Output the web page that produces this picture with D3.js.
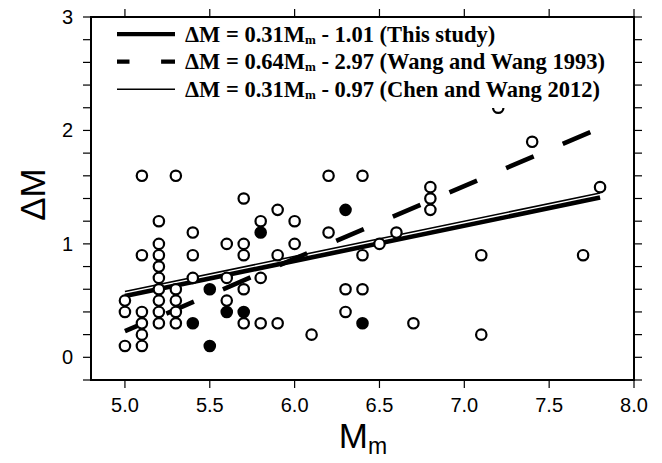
<!DOCTYPE html>
<html>
<head>
<meta charset="utf-8">
<script src="https://cdn.jsdelivr.net/npm/d3@7"></script>
<style>
  html, body { margin: 0; padding: 0; background: #fff; }
  svg { display: block; }
</style>
</head>
<body>
<svg id="chart" width="662" height="463"></svg>
<script>
// Open circles: main-shock magnitude Mm and magnitude difference ΔM
const openMm = [5.1, 5.3, 5.7, 5.9, 5.2, 5.8, 5.4, 5.2, 5.6, 5.7,
                5.1, 5.2, 5.4, 5.7, 5.9, 5.2, 5.2, 5.4, 5.6, 5.8,
                5.2, 5.3, 5.7, 5.0, 5.2, 5.3, 5.6, 5.0, 5.1, 5.2,
                5.3, 5.1, 5.2, 5.3, 5.7, 5.8, 5.9, 5.1, 5.0, 5.1,
                6.2, 6.4, 6.8, 6.8, 6.8, 6.0, 6.2, 6.6, 6.0, 6.5,
                6.4, 6.3, 6.4, 6.3, 6.7, 6.1,
                7.2, 7.4, 7.8, 7.1, 7.7, 7.1];
const openDM = [1.6, 1.6, 1.4, 1.3, 1.2, 1.2, 1.1, 1.0, 1.0, 1.0,
                0.9, 0.9, 0.9, 0.9, 0.9, 0.8, 0.7, 0.7, 0.7, 0.7,
                0.6, 0.6, 0.6, 0.5, 0.5, 0.5, 0.5, 0.4, 0.4, 0.4,
                0.4, 0.3, 0.3, 0.3, 0.3, 0.3, 0.3, 0.2, 0.1, 0.1,
                1.6, 1.6, 1.5, 1.4, 1.3, 1.2, 1.1, 1.1, 1.0, 1.0,
                0.9, 0.6, 0.6, 0.4, 0.3, 0.2,
                2.2, 1.9, 1.5, 0.9, 0.9, 0.2];

// Filled circles
const filledMm = [5.8, 6.3, 5.5, 5.6, 5.7, 5.4, 6.4, 5.5];
const filledDM = [1.1, 1.3, 0.6, 0.4, 0.4, 0.3, 0.3, 0.1];

// Linear relations ΔM = a·Mm + b, drawn over Mm in [5.0, 7.8]
const fitNames  = ["This study", "Wang and Wang 1993", "Chen and Wang 2012"];
const fitSlopes = [0.31, 0.64, 0.31];
const fitIntercepts = [-1.01, -2.97, -0.97];
const fitRange = [5.0, 7.8];

const xTicks = [5.0, 5.5, 6.0, 6.5, 7.0, 7.5, 8.0];
const yTicks = [0, 1, 2, 3];

const svg = d3.select("#chart");
const pLeft = 91, pRight = 634, pTop = 17, pBottom = 380;

const x = d3.scaleLinear().domain([4.8, 8.0]).range([pLeft, pRight]);
const y = d3.scaleLinear().domain([-0.2, 3.0]).range([pBottom, pTop]);

const yMinor = d3.range(-0.2, 3.0001, 0.2).map(v => +v.toFixed(1));

const fitStyles = [
  { width: 4.6, dash: null, offset: 0 },
  { width: 4.6, dash: "30 31.6", offset: 16.6 },
  { width: 1.6, dash: null, offset: 0 }
];

// regression lines
const plot = svg.append("g");
fitSlopes.forEach((a, i) => {
  const b = fitIntercepts[i];
  const st = fitStyles[i];
  const line = plot.append("line")
    .attr("x1", x(fitRange[0])).attr("y1", y(a * fitRange[0] + b))
    .attr("x2", x(fitRange[1])).attr("y2", y(a * fitRange[1] + b))
    .attr("stroke", "#000")
    .attr("stroke-width", st.width)
    .attr("stroke-linecap", "butt");
  if (st.dash) line.attr("stroke-dasharray", st.dash).attr("stroke-dashoffset", st.offset);
});

// data points
const openPts = openMm.map((m, i) => [m, openDM[i]]);
const filledPts = filledMm.map((m, i) => [m, filledDM[i]]);

plot.selectAll("circle.open").data(openPts).join("circle")
  .attr("class", "open")
  .attr("cx", d => x(d[0])).attr("cy", d => y(d[1]))
  .attr("r", 5.2)
  .attr("fill", "#fff").attr("stroke", "#000").attr("stroke-width", 2.2);

plot.selectAll("circle.filled").data(filledPts).join("circle")
  .attr("class", "filled")
  .attr("cx", d => x(d[0])).attr("cy", d => y(d[1]))
  .attr("r", 5.2)
  .attr("fill", "#000").attr("stroke", "#000").attr("stroke-width", 2.2);

// legend panel
const legend = svg.append("g");
legend.append("rect")
  .attr("x", pLeft).attr("y", pTop)
  .attr("width", pRight - pLeft).attr("height", 108 - pTop)
  .attr("fill", "#fff");

const legRows = [34.2, 61.7, 89.2];
const legLabels = [
  ["0.31", "1.01"],
  ["0.64", "2.97"],
  ["0.31", "0.97"]
];
const legendStyles = [
  { width: 4.2, dash: null, offset: 0 },
  { width: 4.2, dash: "30 31.6", offset: 17.5 },
  { width: 1.5, dash: null, offset: 0 }
];
legRows.forEach((ry, i) => {
  const st = legendStyles[i];
  const l = legend.append("line")
    .attr("x1", 117).attr("x2", 175)
    .attr("y1", ry).attr("y2", ry)
    .attr("stroke", "#000").attr("stroke-width", st.width);
  if (st.dash) l.attr("stroke-dasharray", st.dash).attr("stroke-dashoffset", st.offset);

  const t = legend.append("text")
    .attr("x", 185).attr("y", ry + 7.5)
    .attr("font-family", "'Liberation Serif', 'Times New Roman', serif")
    .attr("font-weight", "bold")
    .attr("font-size", 22.5)
    .attr("fill", "#000");
  t.append("tspan").text("ΔM = " + legLabels[i][0] + "M");
  t.append("tspan").attr("font-size", 13).attr("dy", 2).text("m");
  t.append("tspan").attr("dy", -2).text(" - " + legLabels[i][1] + " (" + fitNames[i] + ")");
});

// frame
svg.append("rect")
  .attr("x", pLeft).attr("y", pTop)
  .attr("width", pRight - pLeft).attr("height", pBottom - pTop)
  .attr("fill", "none").attr("stroke", "#000").attr("stroke-width", 2);

// ticks on all four sides
const tickLen = 8;
const tk = svg.append("g").attr("stroke", "#000").attr("stroke-width", 1.2);
xTicks.forEach(v => {
  tk.append("line").attr("x1", x(v)).attr("x2", x(v)).attr("y1", pBottom).attr("y2", pBottom + tickLen);
  tk.append("line").attr("x1", x(v)).attr("x2", x(v)).attr("y1", pTop).attr("y2", pTop - tickLen);
});
yMinor.forEach(v => {
  tk.append("line").attr("x1", pLeft).attr("x2", pLeft - tickLen).attr("y1", y(v)).attr("y2", y(v));
  tk.append("line").attr("x1", pRight).attr("x2", pRight + tickLen).attr("y1", y(v)).attr("y2", y(v));
});

// tick labels
const sans = "'Liberation Sans', Arial, Helvetica, sans-serif";
svg.append("g").selectAll("text").data(xTicks).join("text")
  .attr("x", d => x(d)).attr("y", 411.5)
  .attr("text-anchor", "middle")
  .attr("font-family", sans).attr("font-size", 20)
  .text(d => d3.format(".1f")(d));

svg.append("g").selectAll("text").data(yTicks).join("text")
  .attr("x", 73).attr("y", d => y(d) + 7)
  .attr("text-anchor", "end")
  .attr("font-family", sans).attr("font-size", 20)
  .text(d => d);

// axis titles
svg.append("text")
  .attr("transform", "translate(45," + ((pTop + pBottom) / 2 - 4) + ") rotate(-90)")
  .attr("text-anchor", "middle")
  .attr("font-family", sans).attr("font-size", 35)
  .text("ΔM");

const xt = svg.append("text")
  .attr("x", 363).attr("y", 448)
  .attr("text-anchor", "middle")
  .attr("font-family", sans).attr("font-size", 35);
xt.append("tspan").text("M");
xt.append("tspan").attr("font-size", 23).attr("dy", 6).text("m");
</script>
</body>
</html>
